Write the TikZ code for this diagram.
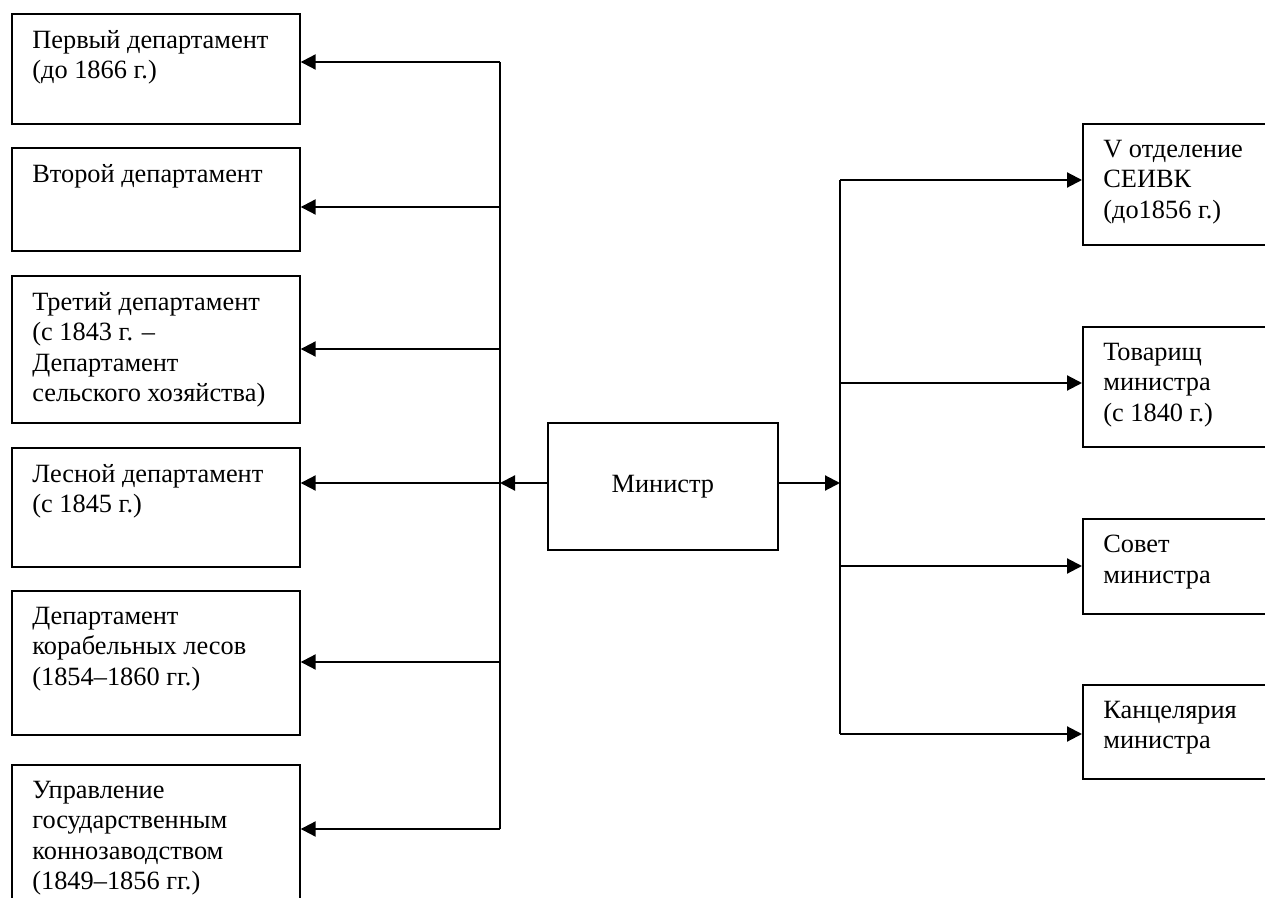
\documentclass[tikz,border=0pt]{standalone}
\usepackage{fontspec}
\setmainfont{Liberation Serif}
\usetikzlibrary{arrows.meta}

\begin{document}
\begin{tikzpicture}[x=0.02cm,y=-0.02cm]
\tikzstyle{box}=[draw, line width=1pt, inner sep=0pt, anchor=north west, font=\fontsize{15pt}{17.25pt}\selectfont]
\tikzstyle{txt}=[anchor=north west, align=left, inner sep=0pt, shift={(21,17)}, font=\fontsize{15pt}{17.25pt}\selectfont]
\tikzstyle{trunk}=[line width=1.2pt]
\tikzstyle{conn}=[line width=1.2pt, -{Triangle[length=0.3cm,width=0.3cm]}]
\clip (0,0) rectangle (1265,898);
% departments (left)
\node (l1) [box, minimum width=5.76cm, minimum height=2.2cm] at (11,13) {};
\node (l2) [box, minimum width=5.76cm, minimum height=2.06cm] at (11,147) {};
\node (l3) [box, minimum width=5.76cm, minimum height=2.94cm] at (11,275) {};
\node (l4) [box, minimum width=5.76cm, minimum height=2.38cm] at (11,447) {};
\node (l5) [box, minimum width=5.76cm, minimum height=2.88cm] at (11,590) {};
\node (l6) [box, minimum width=5.76cm, minimum height=3.2cm] at (11,764) {};
\node (l1t) [txt] at (l1.north west) {Первый департамент\\(до 1866 г.)};
\node (l2t) [txt] at (l2.north west) {Второй департамент};
\node (l3t) [txt] at (l3.north west) {Третий департамент\\(с 1843 г. –\\Департамент\\сельского хозяйства)};
\node (l4t) [txt] at (l4.north west) {Лесной департамент\\(с 1845 г.)};
\node (l5t) [txt] at (l5.north west) {Департамент\\корабельных лесов\\(1854–1860 гг.)};
\node (l6t) [txt] at (l6.north west) {Управление\\государственным\\коннозаводством\\(1849–1856 гг.)};
% minister
\node (m) [box, minimum width=4.6cm, minimum height=2.54cm] at (547,422) {Министр};
% right side
\node (r1) [box, minimum width=4cm, minimum height=2.42cm] at (1082,123) {};
\node (r2) [box, minimum width=4cm, minimum height=2.4cm] at (1082,326) {};
\node (r3) [box, minimum width=4cm, minimum height=1.9cm] at (1082,518) {};
\node (r4) [box, minimum width=4cm, minimum height=1.88cm] at (1082,684) {};
\node (r1t) [txt] at (r1.north west) {V отделение\\СЕИВК\\(до1856 г.)};
\node (r2t) [txt] at (r2.north west) {Товарищ\\министра\\(с 1840 г.)};
\node (r3t) [txt] at (r3.north west) {Совет\\министра};
\node (r4t) [txt] at (r4.north west) {Канцелярия\\министра};
% junctions
\coordinate (j1) at (500,62);
\coordinate (j2) at (500,207);
\coordinate (j3) at (500,349);
\coordinate (j4) at (500,483);
\coordinate (j5) at (500,662);
\coordinate (j6) at (500,829);
\coordinate (k0) at (840,483);
\coordinate (k1) at (840,180);
\coordinate (k2) at (840,383);
\coordinate (k3) at (840,566);
\coordinate (k4) at (840,734);
\draw[trunk] (j1) -- (j6);
\draw[trunk] (k1) -- (k4);
\draw[conn] (m.west |- j4) -- (j4);
\draw[conn] (m.east |- k0) -- (k0);
\draw[conn] (j1) -- (l1.east |- j1);
\draw[conn] (j2) -- (l2.east |- j2);
\draw[conn] (j3) -- (l3.east |- j3);
\draw[conn] (j4) -- (l4.east |- j4);
\draw[conn] (j5) -- (l5.east |- j5);
\draw[conn] (j6) -- (l6.east |- j6);
\draw[conn] (k1) -- (r1.west |- k1);
\draw[conn] (k2) -- (r2.west |- k2);
\draw[conn] (k3) -- (r3.west |- k3);
\draw[conn] (k4) -- (r4.west |- k4);
\end{tikzpicture}
\end{document}
